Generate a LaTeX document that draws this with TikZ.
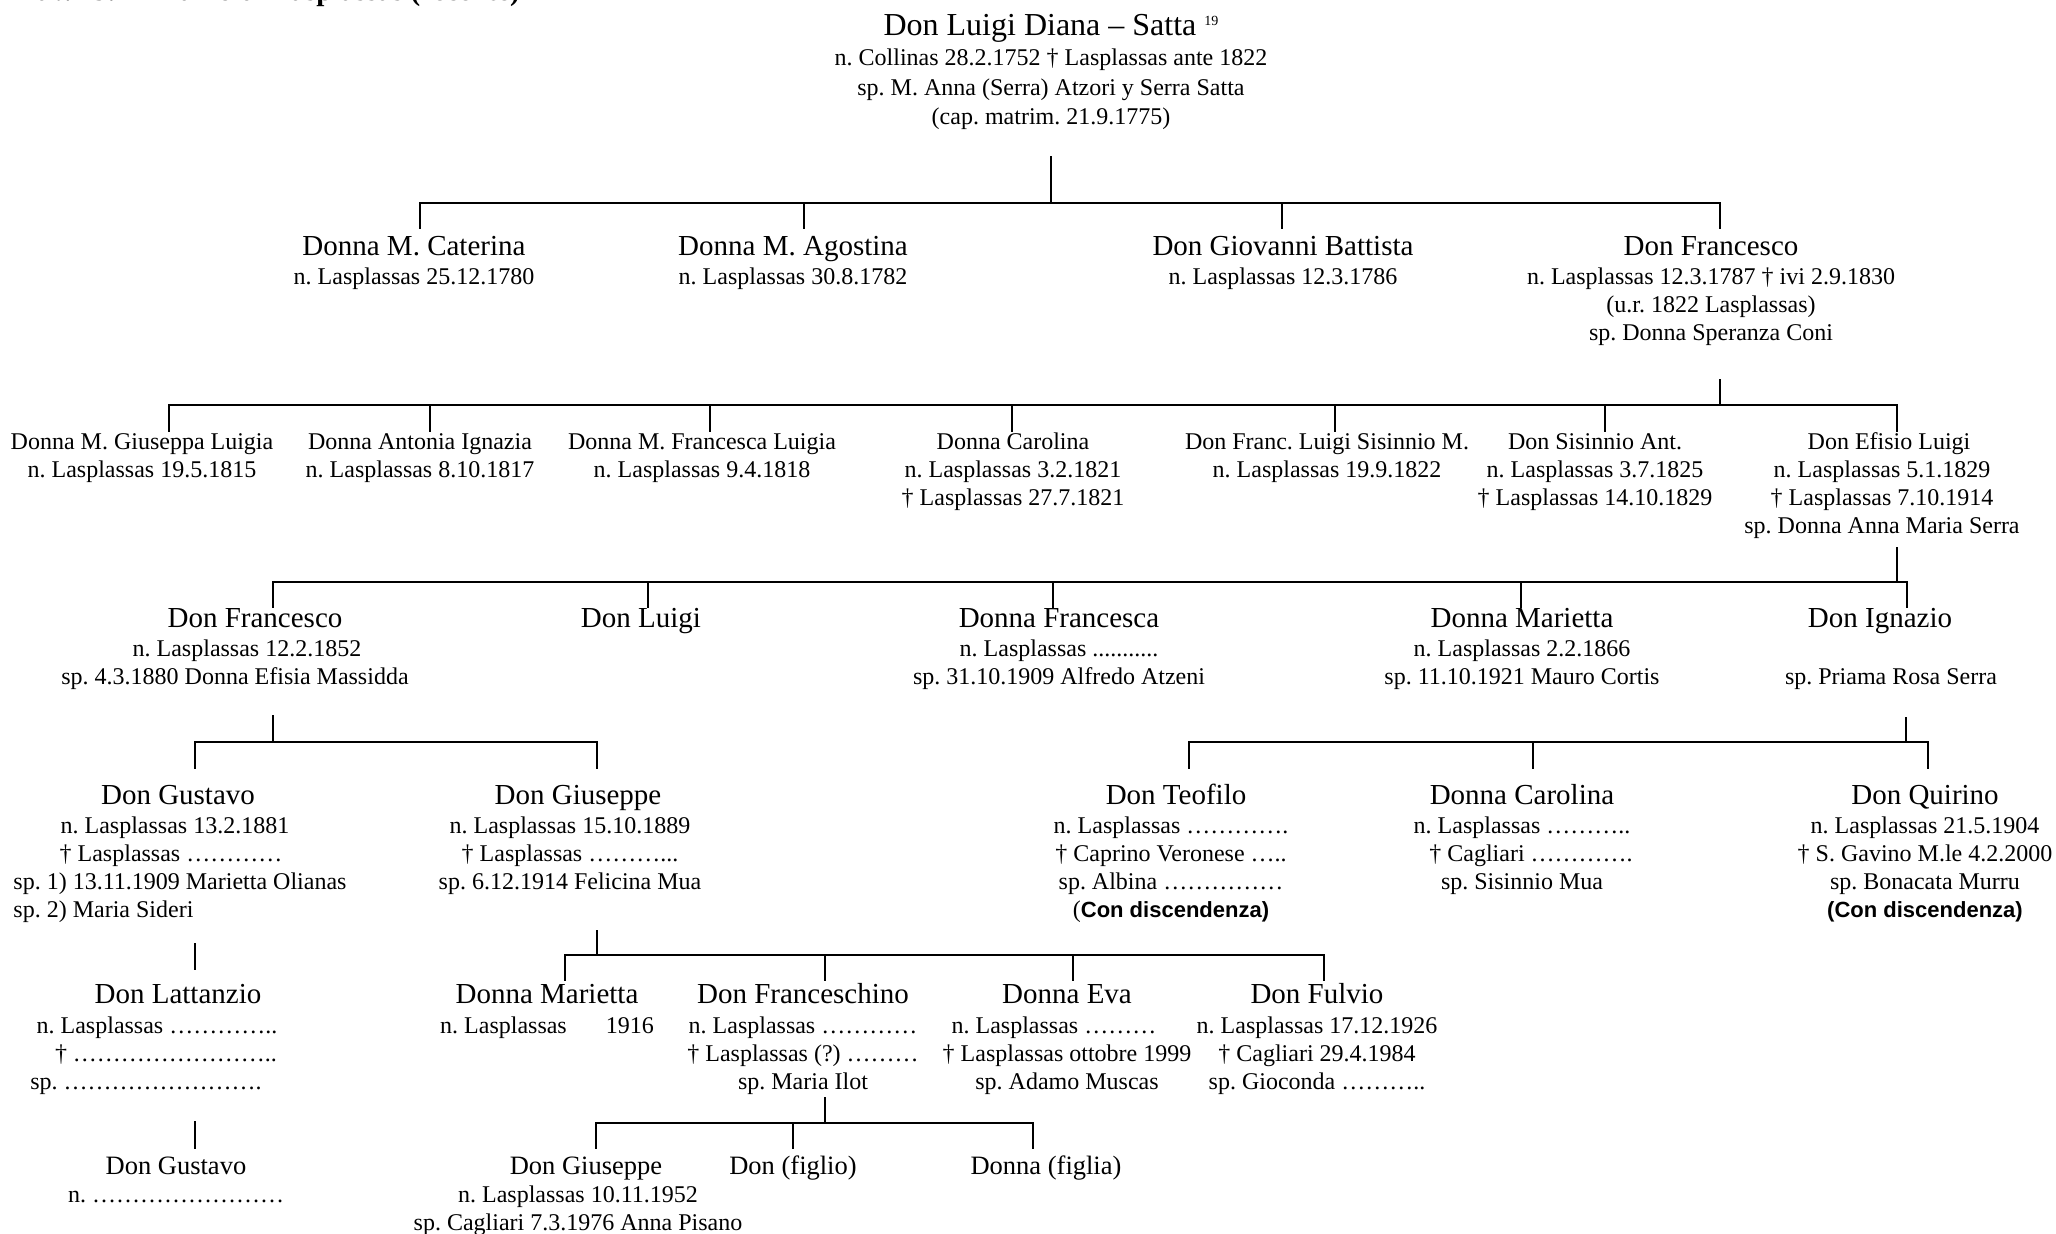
\documentclass[tikz,border=0pt]{standalone}
\usepackage{fontspec}
\setmainfont{Liberation Serif}
\newfontfamily\sansbf{Liberation Sans}
\newcommand\nm[1]{{\fontsize{29}{34}\selectfont #1}}
\newcommand\nmb[1]{{\fontsize{26.5}{30}\selectfont #1}}
\newcommand\sh[2]{\makebox[0pt][l]{\hspace*{#1}\makebox[0pt][c]{#2}}}
\newcommand\cdtext{{\sansbf\bfseries\fontsize{22}{28}\selectfont Con discendenza)}}
\newcommand\pers[1]{\begin{tabular}[t]{@{}c@{}}#1\end{tabular}}
\newcommand\clan[7]{%
  \draw[tree] (#1,#2) -- (#1,#3);
  \draw[tree] (#5,#3) -- (#6,#3);
  \foreach \d in {#7}{\draw[tree] (\d,#3) -- (\d,#4);}
}
\tikzset{
  person/.style={anchor=base,inner sep=0pt,font={\frenchspacing\fontsize{24}{28}\selectfont}},
  tree/.style={line width=1.8pt,line cap=rect,black}
}
\begin{document}
\frenchspacing
\begin{tikzpicture}[x=1pt,y=-1pt]
\useasboundingbox (0,0) rectangle (2056,1234);
\fill[white] (0,0) rectangle (2056,1234);
\node[anchor=base west,inner sep=0pt,font={\frenchspacing\bfseries\fontsize{29}{34}\selectfont}] (title) at (20,1) {Tav. 19.1 – Ramo di Lasplassas (recente)};

% root
\node[person,font={\frenchspacing\fontsize{24}{29.5}\selectfont}] (root) at (1051,35) {\pers{{\fontsize{32}{36}\selectfont Don Luigi Diana – Satta \raisebox{10pt}{\fontsize{14}{14}\selectfont 19}}\\[1pt]
 n. Collinas 28.2.1752 † Lasplassas ante 1822\\ sp. M. Anna (Serra) Atzori y Serra Satta\\ (cap. matrim. 21.9.1775)}};

% row 1
\node[person] (cat) at (414,255) {\pers{\nm{Donna M. Caterina}\\[1.5pt] n. Lasplassas 25.12.1780}};
\node[person] (ago) at (793,255) {\pers{\nm{Donna M. Agostina}\\[1.5pt] n. Lasplassas 30.8.1782}};
\node[person] (gio) at (1283,255) {\pers{\nm{Don Giovanni Battista}\\[1.5pt] n. Lasplassas 12.3.1786}};
\node[person] (fra) at (1711,255) {\pers{\nm{Don Francesco}\\[1.5pt] n. Lasplassas 12.3.1787 † ivi 2.9.1830\\ (u.r. 1822 Lasplassas)\\ sp. Donna Speranza Coni}};

% row 2
\node[person] (gl) at (142,449) {\pers{Donna M. Giuseppa Luigia\\ n. Lasplassas 19.5.1815}};
\node[person] (ai) at (420,449) {\pers{Donna Antonia Ignazia\\ n. Lasplassas 8.10.1817}};
\node[person] (fl) at (702,449) {\pers{Donna M. Francesca Luigia\\ n. Lasplassas 9.4.1818}};
\node[person] (car) at (1013,449) {\pers{Donna Carolina\\ n. Lasplassas 3.2.1821\\ † Lasplassas 27.7.1821}};
\node[person] (fls) at (1327,449) {\pers{Don Franc. Luigi Sisinnio M.\\ n. Lasplassas 19.9.1822}};
\node[person] (sis) at (1595,449) {\pers{Don Sisinnio Ant.\\ n. Lasplassas 3.7.1825\\ † Lasplassas 14.10.1829}};
\node[person] (efi) at (1882,449) {\pers{\sh{7pt}{Don Efisio Luigi}\\ n. Lasplassas 5.1.1829\\ † Lasplassas 7.10.1914\\ sp. Donna Anna Maria Serra}};

% row 3
\node[person] (fr2) at (247,627) {\pers{\sh{8pt}{\nm{Don Francesco}}\\[1.5pt] n. Lasplassas 12.2.1852\\ \sh{-12pt}{sp. 4.3.1880 Donna Efisia Massidda}}};
\node[person] (lui) at (641,627) {\pers{\nm{Don Luigi}}};
\node[person] (frc) at (1059,627) {\pers{\nm{Donna Francesca}\\[1.5pt] n. Lasplassas ...........\\ sp. 31.10.1909 Alfredo Atzeni}};
\node[person] (mar) at (1522,627) {\pers{\nm{Donna Marietta}\\[1.5pt] n. Lasplassas 2.2.1866\\ sp. 11.10.1921 Mauro Cortis}};
\node[person] (ign) at (1880,627) {\pers{\nm{Don Ignazio}\\[1.5pt] \\ \sh{11pt}{sp. Priama Rosa Serra}}};

% row 4
\node[person] (gus) at (178,804) {\pers{\nm{Don Gustavo}\\[1.5pt] \sh{-3pt}{n. Lasplassas 13.2.1881}\\ \sh{-7pt}{† Lasplassas …………}\\ \sh{2pt}{sp. 1) 13.11.1909 Marietta Olianas}\\ \sh{2pt}{\rlap{sp. 2) Maria Sideri}\phantom{sp. 1) 13.11.1909 Marietta Olianas}}}};
\node[person] (gsp) at (570,804) {\pers{\sh{8pt}{\nm{Don Giuseppe}}\\[1.5pt] n. Lasplassas 15.10.1889\\ † Lasplassas ………...\\ sp. 6.12.1914 Felicina Mua}};
\node[person] (teo) at (1171,804) {\pers{\sh{5pt}{\nm{Don Teofilo}}\\[1.5pt] n. Lasplassas ………….\\ † Caprino Veronese …..\\ sp. Albina ……………\\ (\cdtext}};
\node[person] (car2) at (1522,804) {\pers{\nm{Donna Carolina}\\[1.5pt] n. Lasplassas ………..\\ \sh{9pt}{† Cagliari ………….}\\ sp. Sisinnio Mua}};
\node[person] (qui) at (1925,804) {\pers{\nm{Don Quirino}\\[1.5pt] n. Lasplassas 21.5.1904\\ † S. Gavino M.le 4.2.2000\\ sp. Bonacata Murru\\ {\sansbf\bfseries\fontsize{22}{28}\selectfont (Con discendenza)}}};

% row 5
\node[person] (lat) at (178,1003) {\pers{\nm{Don Lattanzio}\\[2pt] \sh{-21pt}{n. Lasplassas …………..}\\ \sh{-12pt}{† ……………………..}\\ \sh{-32pt}{sp. …………………….}}};
\node[person] (mar2) at (547,1003) {\pers{\nm{Donna Marietta}\\[2pt] n. Lasplassas\hspace*{39pt}1916}};
\node[person] (fch) at (803,1003) {\pers{\nm{Don Franceschino}\\[2pt] n. Lasplassas …………\\ † Lasplassas (?) ………\\ sp. Maria Ilot}};
\node[person] (eva) at (1067,1003) {\pers{\nm{Donna Eva}\\[2pt] \sh{-13pt}{n. Lasplassas ………}\\ † Lasplassas ottobre 1999\\ sp. Adamo Muscas}};
\node[person] (ful) at (1317,1003) {\pers{\nm{Don Fulvio}\\[2pt] n. Lasplassas 17.12.1926\\ † Cagliari 29.4.1984\\ sp. Gioconda ………..}};

% row 6
\node[person] (gus2) at (176,1174) {\pers{\nmb{Don Gustavo}\\ n. ……………………}};
\node[person] (gsp2) at (578,1174) {\pers{\sh{8pt}{\nmb{Don Giuseppe}}\\ n. Lasplassas 10.11.1952\\ sp. Cagliari 7.3.1976 Anna Pisano}};
\node[person] (fig) at (793,1174) {\pers{\nmb{Don (figlio)}}};
\node[person] (fga) at (1046,1174) {\pers{\nmb{Donna (figlia)}}};

% connectors
\clan{1051}{157}{203}{228}{420}{1720}{420,804,1282,1720}
\clan{1720}{380}{405}{431}{169}{1897}{169,430,710,1012,1335,1605,1897}
\clan{1897}{548}{582}{607}{273}{1907}{273,648,1053,1521,1907}
\clan{273}{716}{742}{768}{195}{597}{195,597}
\clan{1906}{718}{742}{768}{1189}{1928}{1189,1533,1928}
\draw[tree] (195,944) -- (195,969);
\clan{597}{931}{955}{980}{565}{1324}{565,825,1073,1324}
\clan{825}{1098}{1123}{1148}{596}{1033}{596,793,1033}
\draw[tree] (195,1122) -- (195,1148);
\end{tikzpicture}
\end{document}
